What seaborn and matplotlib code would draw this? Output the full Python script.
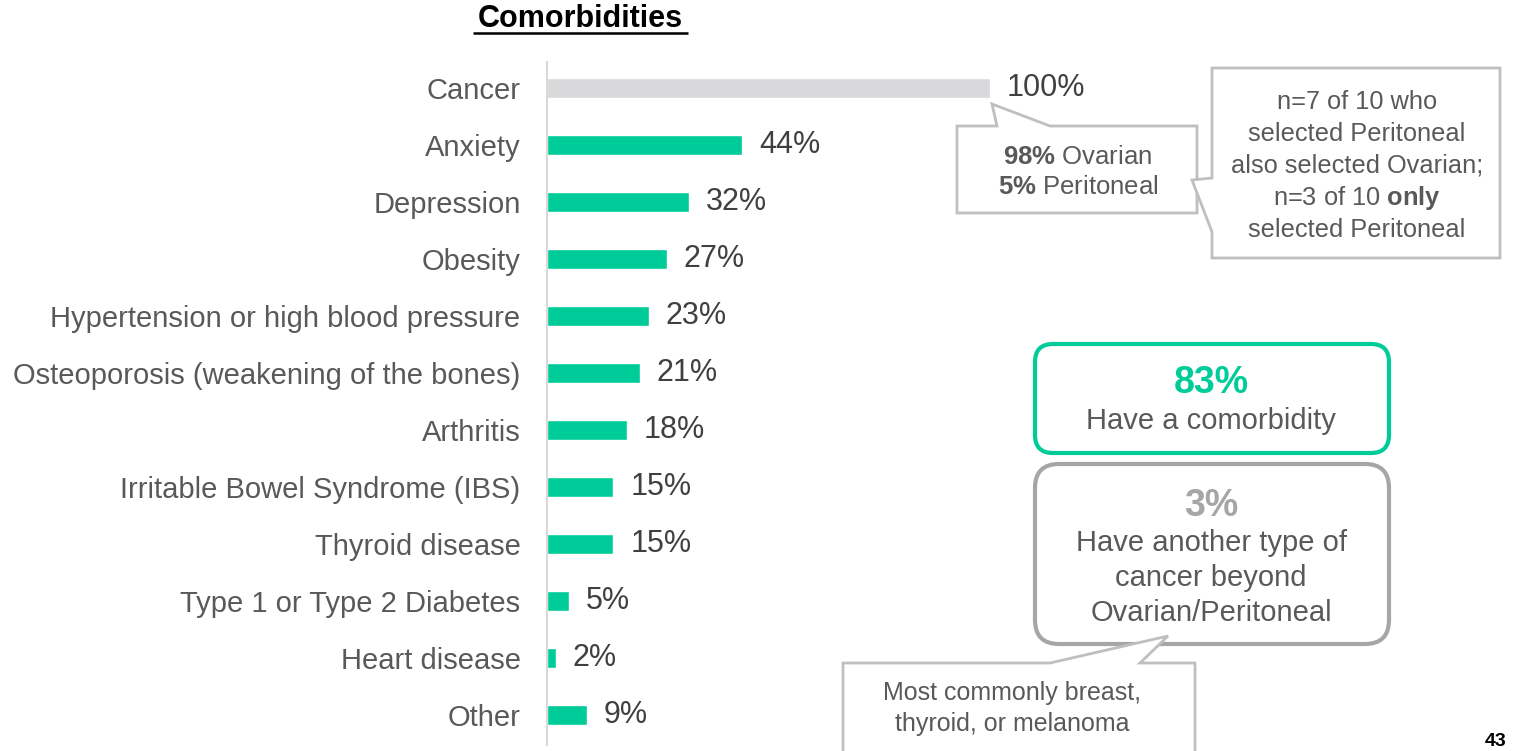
import matplotlib
matplotlib.use("Agg")
import matplotlib.pyplot as plt
from matplotlib.patches import Polygon, FancyBboxPatch
import seaborn as sns
import pandas as pd

# ---- data ----
categories = [
    "Cancer", "Anxiety", "Depression", "Obesity",
    "Hypertension or high blood pressure",
    "Osteoporosis (weakening of the bones)", "Arthritis",
    "Irritable Bowel Syndrome (IBS)", "Thyroid disease",
    "Type 1 or Type 2 Diabetes", "Heart disease", "Other",
]
values = [100, 44, 32, 27, 23, 21, 18, 15, 15, 5, 2, 9]
value_labels = [f"{v}%" for v in values]

TEAL = "#00CC99"
LIGHT = "#D9D9DC"
TEXT = "#595959"
EDGE = "#BFBFBF"
bar_colors = [LIGHT] + [TEAL] * (len(categories) - 1)

sns.set_theme(style="white")
plt.rcParams["font.family"] = ["Liberation Sans", "DejaVu Sans"]
plt.rcParams["mathtext.fontset"] = "custom"
plt.rcParams["mathtext.rm"] = "Liberation Sans"
plt.rcParams["mathtext.bf"] = "Liberation Sans:bold"

W, H = 1516, 751
fig = plt.figure(figsize=(W / 100, H / 100), dpi=100)

# bar axes: left edge at x=547px, spans y=62..745px
ax = fig.add_axes([547 / W, (H - 745) / H, (W - 547) / W, (745 - 62) / H])
df = pd.DataFrame({"category": categories, "value": values})
sns.barplot(data=df, x="value", y="category", hue="category",
            palette=dict(zip(categories, bar_colors)), legend=False,
            width=0.35, orient="h", saturation=1, ax=ax)

ax.set_xlim(0, (W - 547) / 4.43)
ax.set_ylim(len(categories) - 0.47, -0.456)
ax.set_xlabel("")
ax.set_ylabel("")
ax.set_xticks([])
for s in ["top", "right", "bottom"]:
    ax.spines[s].set_visible(False)
ax.spines["left"].set_color("#D9D9D9")
ax.spines["left"].set_linewidth(1.5)
ax.tick_params(axis="y", length=0, pad=19, labelsize=21, labelcolor=TEXT)

for i, (v, lab) in enumerate(zip(values, value_labels)):
    ax.text(v + 3.8, i, lab, va="center", ha="left", fontsize=22, color="#404040")

# ---- overlay in pixel coordinates (y measured from the top) ----
ov = fig.add_axes([0, 0, 1, 1], zorder=5)
ov.set_xlim(0, W)
ov.set_ylim(H, 0)
ov.axis("off")
ov.patch.set_alpha(0)

# title with underline
ov.text(580, 19, "Comorbidities", ha="center", va="center",
        fontsize=22, fontweight="bold", color="black")
ov.plot([473, 688], [33, 33], color="black", lw=1.8, solid_capstyle="butt")

def callout(points, lw=2.0):
    ov.add_patch(Polygon(points, closed=True, facecolor="white",
                         edgecolor=EDGE, lw=lw, joinstyle="miter"))

# callout below the Cancer bar
callout([(957, 126), (997, 126), (992, 104), (1050, 126), (1197, 126),
         (1197, 213), (957, 213)])
ov.text(1078, 157, r"$\bf{98\%}$ Ovarian", ha="center", va="center",
        fontsize=18.5, color=TEXT)
ov.text(1078, 187, r"$\bf{5\%}$ Peritoneal", ha="center", va="center",
        fontsize=18.5, color=TEXT)

# callout to the right
callout([(1212, 68), (1500, 68), (1500, 258), (1212, 258), (1212, 232),
         (1192, 180), (1212, 178)])
box2_lines = ["n=7 of 10 who", "selected Peritoneal", "also selected Ovarian;",
              None, "selected Peritoneal"]
for k, line in enumerate(box2_lines):
    y = 102 + 32 * k
    if line is None:
        ov.text(1357, y, r"n=3 of 10 $\bf{only}$", ha="center", va="center",
                fontsize=18.3, color=TEXT)
    else:
        ov.text(1357, y, line, ha="center", va="center", fontsize=18.3, color=TEXT)

# rounded summary boxes
ov.add_patch(FancyBboxPatch((1035, 344), 354, 109,
                            boxstyle="round,pad=0,rounding_size=18",
                            facecolor="white", edgecolor=TEAL, lw=3))
ov.text(1211, 383, "83%", ha="center", va="center", fontsize=27,
        fontweight="bold", color=TEAL)
ov.text(1211, 421, "Have a comorbidity", ha="center", va="center",
        fontsize=21, color=TEXT)

ov.add_patch(FancyBboxPatch((1035, 464), 354, 180,
                            boxstyle="round,pad=0,rounding_size=24",
                            facecolor="white", edgecolor="#A6A6A6", lw=3))
ov.text(1211, 506, "3%", ha="center", va="center", fontsize=27,
        fontweight="bold", color="#A6A6A6")
for k, line in enumerate(["Have another type of", "cancer beyond",
                          "Ovarian/Peritoneal"]):
    ov.text(1211, 543 + 35 * k, line, ha="center", va="center",
            fontsize=21, color=TEXT)

# callout at the bottom
callout([(843, 663), (1050, 663), (1168, 636), (1140, 663), (1195, 663),
         (1195, 760), (843, 760)])
ov.text(1012, 693, "Most commonly breast,", ha="center", va="center",
        fontsize=18, color=TEXT)
ov.text(1012, 724, "thyroid, or melanoma", ha="center", va="center",
        fontsize=18, color=TEXT)

# page number
ov.text(1496, 750, "43", ha="center", va="bottom", fontsize=14,
        fontweight="bold", color="black")

fig.savefig("out.png", dpi=100)
